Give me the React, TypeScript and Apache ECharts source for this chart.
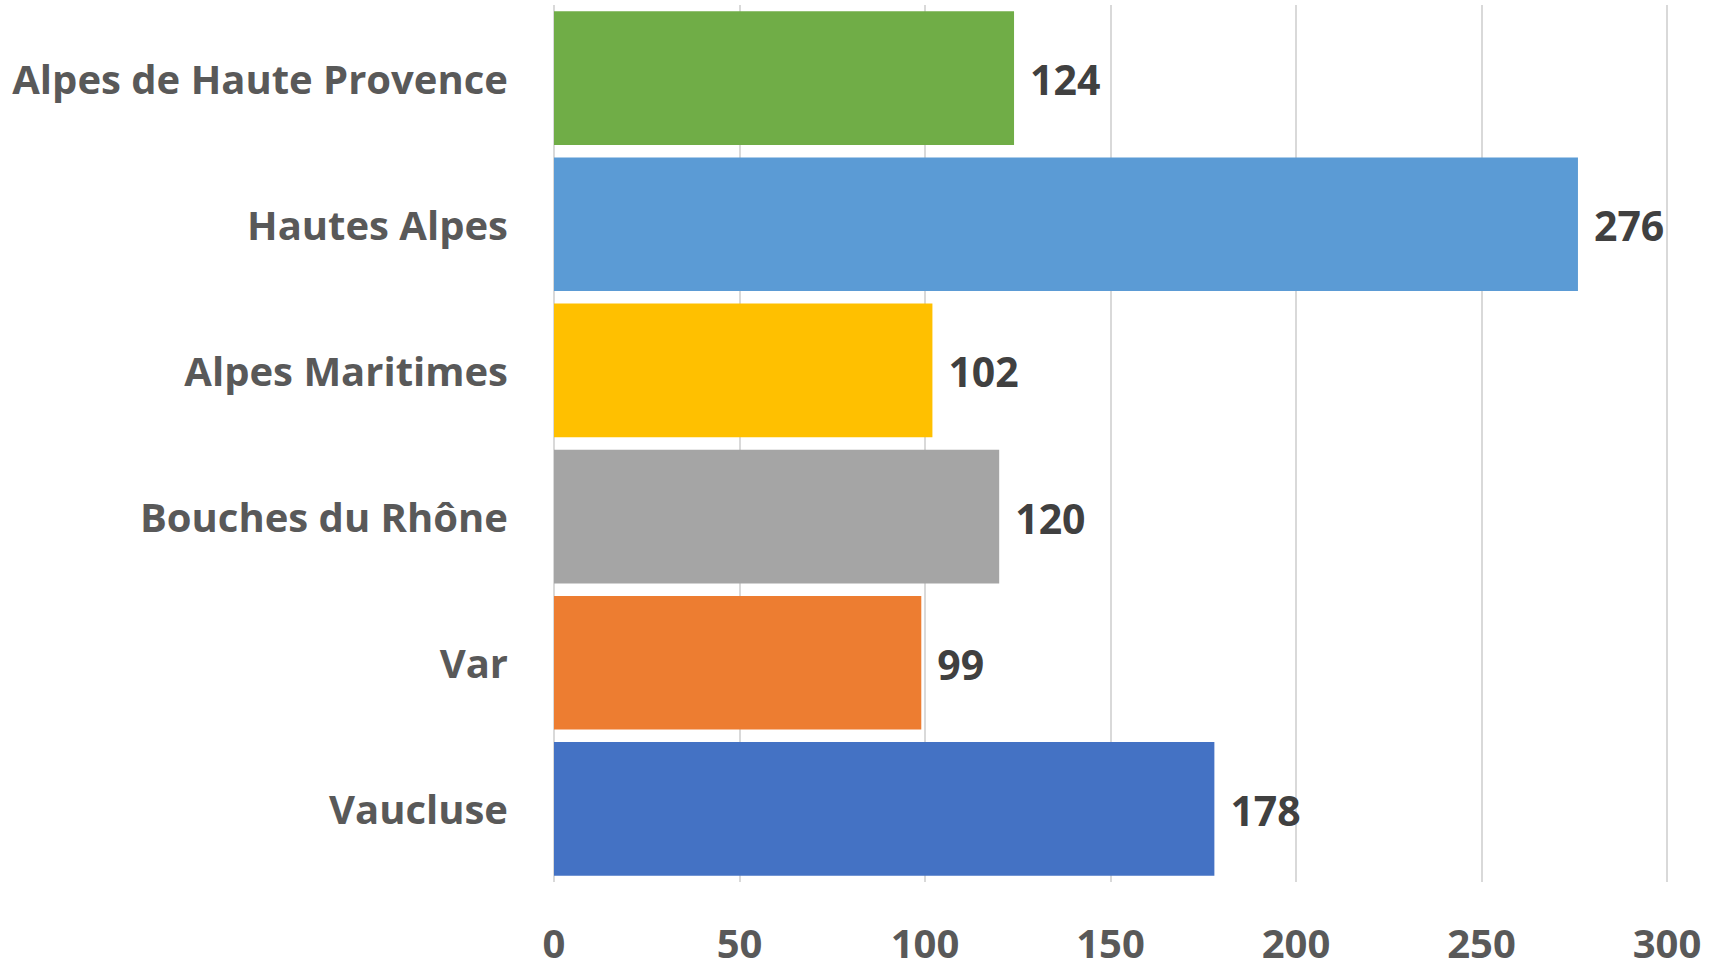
import React, { useEffect, useRef } from "react";
import * as echarts from "echarts";

const categories = [
  "Alpes de Haute Provence",
  "Hautes Alpes",
  "Alpes Maritimes",
  "Bouches du Rhône",
  "Var",
  "Vaucluse",
];
const values = [124, 276, 102, 120, 99, 178];
const colors = ["#70AD47", "#5B9BD5", "#FFC000", "#A5A5A5", "#ED7D31", "#4472C4"];
const xTicks = [0, 50, 100, 150, 200, 250, 300];

const FONT = "'Open Sans', Lato, sans-serif";

export default function App() {
  const ref = useRef<HTMLDivElement>(null);
  useEffect(() => {
    if (!ref.current) return;
    const chart = echarts.init(ref.current, undefined, { renderer: "svg" });
    chart.setOption({
      animation: false,
      backgroundColor: "#ffffff",
      grid: { left: 554, right: 54, top: 5, bottom: 84, containLabel: false },
      xAxis: {
        type: "value",
        min: xTicks[0],
        max: xTicks[xTicks.length - 1],
        interval: 50,
        axisLine: { show: false },
        axisTick: { show: false },
        splitLine: { show: true, lineStyle: { color: "#D9D9D9", width: 2 } },
        axisLabel: {
          fontSize: 40,
          lineHeight: 40,
          fontWeight: "bold",
          color: "#595959",
          fontFamily: FONT,
          margin: 40,
        },
      },
      yAxis: {
        type: "category",
        data: categories,
        inverse: true,
        axisLine: { show: false },
        axisTick: { show: false },
        splitLine: { show: false },
        axisLabel: {
          fontSize: 40,
          fontWeight: "bold",
          color: "#595959",
          fontFamily: FONT,
          margin: 46,
        },
      },
      series: [
        {
          type: "bar",
          data: values.map((v, i) => ({ value: v, itemStyle: { color: colors[i] } })),
          barCategoryGap: "8.5%",
          label: {
            show: true,
            position: "right",
            distance: 16,
            fontSize: 41,
            fontWeight: "bold",
            color: "#404040",
            fontFamily: FONT,
            offset: [0, 1],
          },
        },
      ],
    });
    return () => chart.dispose();
  }, []);
  return (
    <div
      ref={ref}
      style={{ position: "fixed", left: 0, top: 0, width: "100vw", height: "100vh" }}
    />
  );
}
